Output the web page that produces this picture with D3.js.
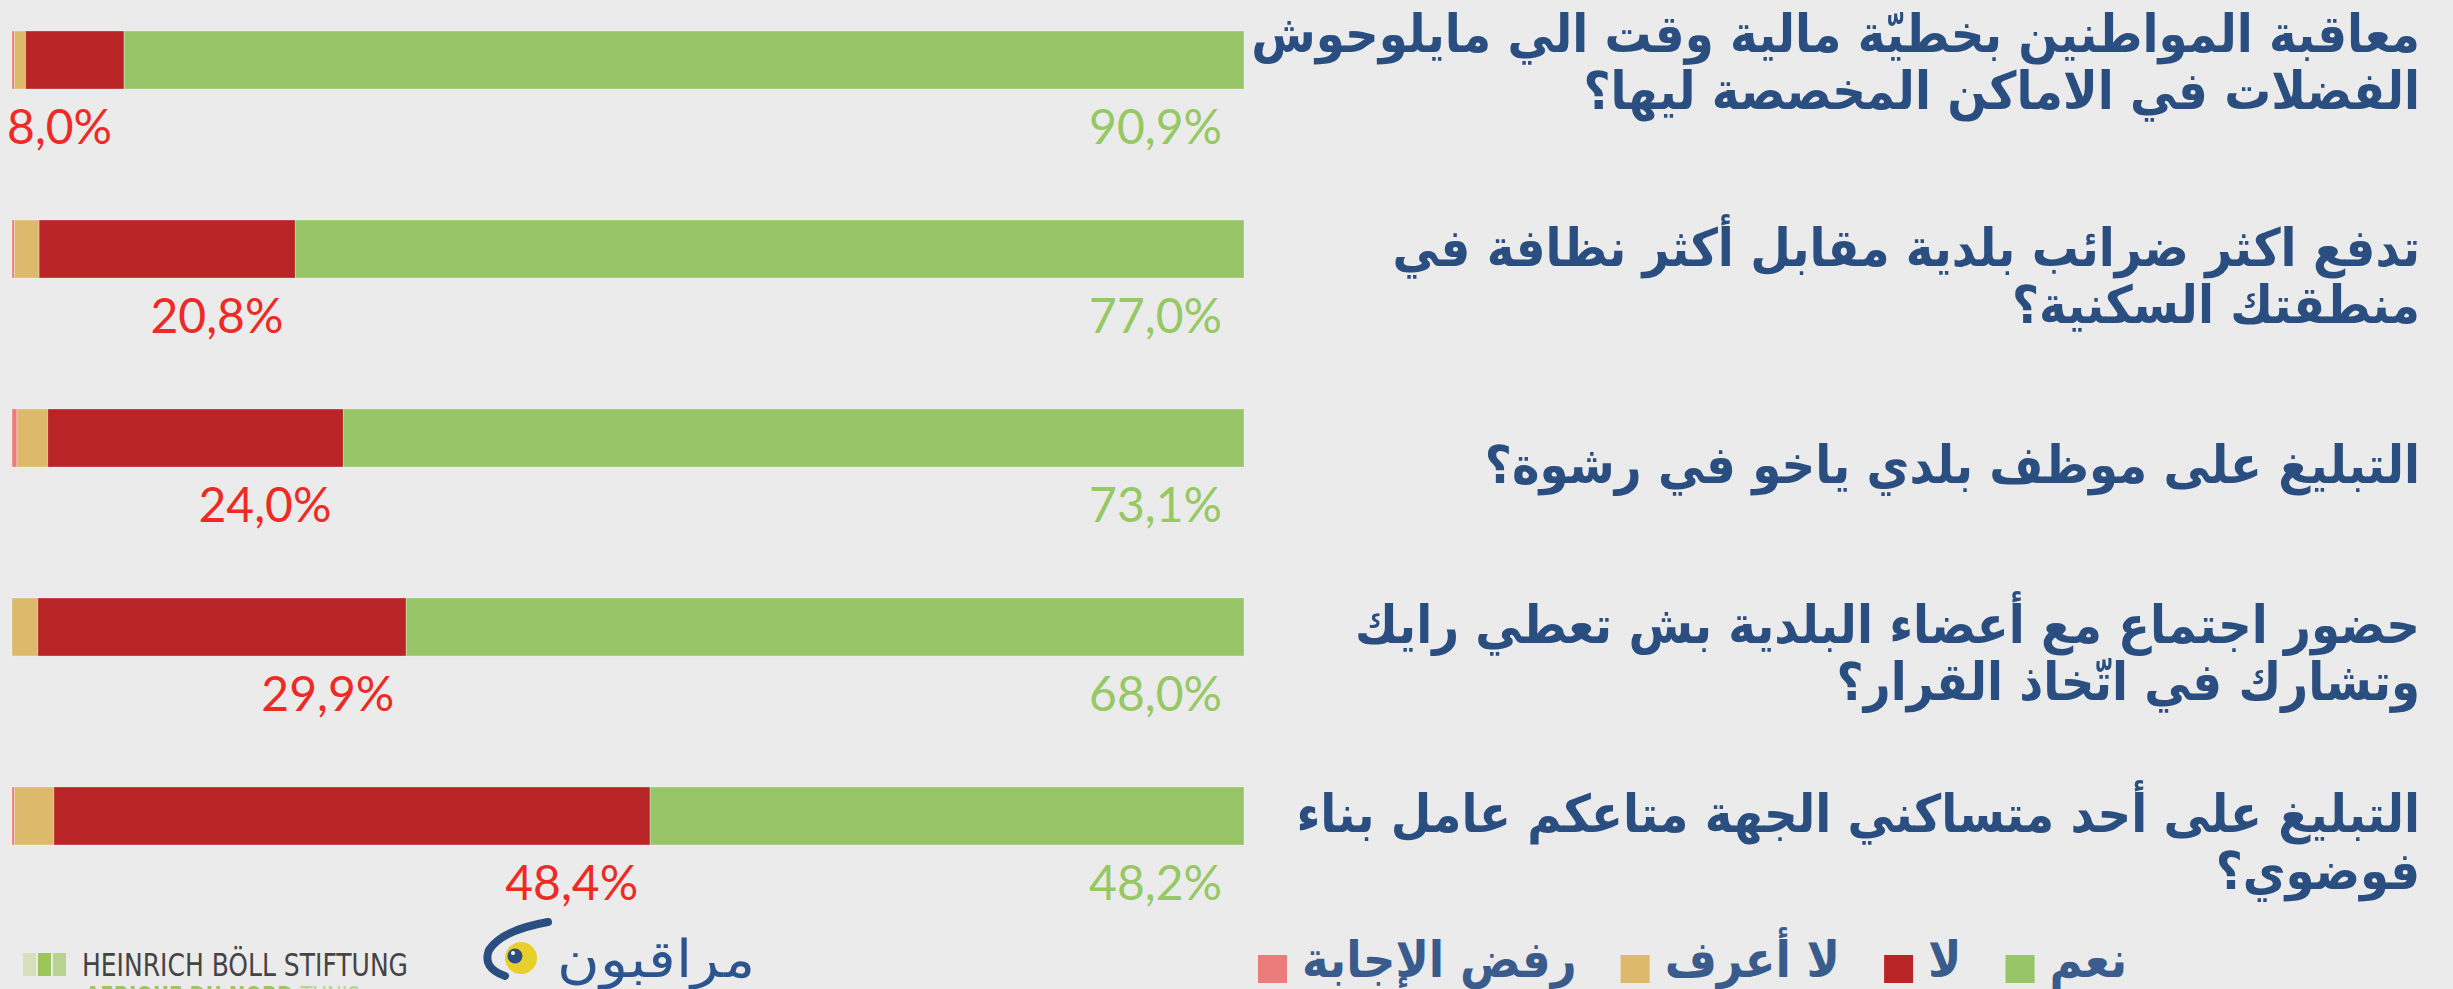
<!DOCTYPE html>
<html><head><meta charset="utf-8">
<script src="https://cdn.jsdelivr.net/npm/d3@7"></script>
<style>html,body{margin:0;padding:0;background:#EBEBEB;overflow:hidden}</style>
</head><body>
<svg id="chart" width="2453" height="989"></svg>
<script>
// ---- data ----
const categories = [
  ["معاقبة المواطنين بخطيّة مالية وقت الي مايلوحوش", "الفضلات في الاماكن المخصصة ليها؟"],
  ["تدفع اكثر ضرائب بلدية مقابل أكثر نظافة في", "منطقتك السكنية؟"],
  ["التبليغ على موظف بلدي ياخو في رشوة؟"],
  ["حضور اجتماع مع أعضاء البلدية بش تعطي رايك", "وتشارك في اتّخاذ القرار؟"],
  ["التبليغ على أحد متساكني الجهة متاعكم عامل بناء", "فوضوي؟"]
];
const refused  = [0.2, 0.2, 0.4, 0.0, 0.2];
const dontKnow = [0.9, 2.0, 2.5, 2.1, 3.2];
const no       = [8.0, 20.8, 24.0, 29.9, 48.4];
const yes      = [90.9, 77.0, 73.1, 68.0, 48.2];
const seriesNames = ["رفض الإجابة", "لا أعرف", "لا", "نعم"];
const seriesColors = ["#EC7B7B", "#DDB96C", "#B92527", "#97C567"];

// ---- layout ----
const svg = d3.select("#chart");
const rows = categories.map((c, i) => ({i, refused: refused[i], dontKnow: dontKnow[i], no: no[i], yes: yes[i]}));
const keys = ["refused", "dontKnow", "no", "yes"];
const stack = d3.stack().keys(keys)(rows);

const x = d3.scaleLinear().domain([0, 100]).range([12, 1244]);
const y = d3.scaleBand().domain(d3.range(categories.length)).range([31, 845]).paddingInner(0.693).paddingOuter(0).align(0);

const fmt = v => d3.format(".1f")(v).replace(".", ",") + "%";

// bars
svg.append("g").selectAll("g").data(stack).join("g")
  .attr("fill", (d, k) => seriesColors[k])
  .selectAll("rect").data(d => d).join("rect")
  .attr("x", d => x(d[0]))
  .attr("y", (d, i) => y(i))
  .attr("width", d => Math.max(0, x(d[1]) - x(d[0])))
  .attr("height", y.bandwidth())
  .attr("stroke", "rgba(255,255,255,0.3)")
  .attr("stroke-width", 1);

// red labels (لا)
svg.append("g").selectAll("text").data(rows).join("text")
  .attr("x", d => x(d.refused + d.dontKnow + d.no) - 12)
  .attr("y", d => y(d.i) + y.bandwidth() + 55)
  .attr("text-anchor", "end")
  .attr("font-family", "Lato, 'Open Sans', sans-serif")
  .attr("font-size", 48)
  .attr("fill", "#EE2A24")
  .text(d => fmt(d.no));

// green labels (نعم)
svg.append("g").selectAll("text").data(rows).join("text")
  .attr("x", x(100) - 22)
  .attr("y", d => y(d.i) + y.bandwidth() + 55)
  .attr("text-anchor", "end")
  .attr("font-family", "Lato, 'Open Sans', sans-serif")
  .attr("font-size", 48)
  .attr("fill", "#96C864")
  .text(d => fmt(d.yes));

// category labels
const labelFont = "'DejaVu Sans', sans-serif";
const labelSize = 52;
const probe = svg.append("text").attr("font-family", labelFont).attr("font-weight", "bold")
  .attr("font-size", labelSize).text(categories[0][0]);
const sx = 1169 / probe.node().getComputedTextLength();
probe.remove();

const lineGap = 57;
const labG = svg.append("g");
categories.forEach((lines, i) => {
  const bc = y(i) + y.bandwidth() / 2;
  const center = i === 0 ? bc + 2 : bc + 27;
  lines.forEach((ln, j) => {
    const base = center + (j - (lines.length - 1) / 2) * lineGap + 18;
    labG.append("text")
      .attr("transform", `translate(2420,${base}) scale(${sx},1)`)
      .attr("text-anchor", "end")
      .attr("font-family", labelFont)
      .attr("font-weight", "bold")
      .attr("font-size", labelSize)
      .attr("fill", "#2A4E80")
      .text(ln);
  });
});

// legend (left to right: refused, don't know, no, yes)
const leg = svg.append("g");
let lx = 1258;
seriesNames.forEach((name, k) => {
  leg.append("rect").attr("x", lx).attr("y", 955).attr("width", 29).attr("height", 28).attr("fill", seriesColors[k]);
  const t = leg.append("text")
    .attr("font-family", labelFont).attr("font-weight", "bold").attr("font-size", 50)
    .attr("fill", "#3A5C8C").text(name);
  const w = t.node().getComputedTextLength() * sx;
  t.attr("transform", `translate(${lx + 44},977) scale(${sx},1)`);
  lx = lx + 44 + w + 44;
});

// Heinrich Böll logo
const hb = svg.append("g");
[["#D5E0BA", 23], ["#9CC55A", 38], ["#B8D38F", 53]].forEach(([c, xx]) => {
  hb.append("rect").attr("x", xx).attr("y", 953).attr("width", 13).attr("height", 23).attr("fill", c);
});
hb.append("text").attr("x", 82).attr("y", 976)
  .attr("font-family", "'Liberation Sans Narrow', 'DejaVu Sans Condensed', sans-serif")
  .attr("font-size", 32).attr("fill", "#444").attr("textLength", 326).attr("lengthAdjust", "spacingAndGlyphs")
  .text("HEINRICH BÖLL STIFTUNG");
const t2 = hb.append("text").attr("x", 85).attr("y", 1006)
  .attr("font-family", "'Liberation Sans Narrow', 'DejaVu Sans Condensed', sans-serif")
  .attr("font-size", 26).attr("textLength", 275).attr("lengthAdjust", "spacingAndGlyphs");
t2.append("tspan").attr("fill", "#9CC55A").attr("font-weight", "bold").text("AFRIQUE DU NORD ");
t2.append("tspan").attr("fill", "#B8D38F").text("TUNIS");

// Muraqiboun logo
const mq = svg.append("g");
mq.append("path").attr("d", "M505,976 Q482,968 489,950 Q502,930 548,922")
  .attr("fill", "none").attr("stroke", "#2A4E80").attr("stroke-width", 8).attr("stroke-linecap", "round");
mq.append("circle").attr("cx", 521).attr("cy", 958).attr("r", 16).attr("fill", "#E8CF2A");
mq.append("circle").attr("cx", 515).attr("cy", 956).attr("r", 7.5).attr("fill", "#2A4E80");
mq.append("circle").attr("cx", 513).attr("cy", 953).attr("r", 2).attr("fill", "#fff");
mq.append("text").attr("x", 557).attr("y", 977)
  .attr("font-family", "'DejaVu Sans', sans-serif").attr("font-weight", 300)
  .attr("font-size", 52).attr("fill", "#2C5590")
  .attr("textLength", 198).attr("lengthAdjust", "spacingAndGlyphs")
  .text("مراقبون");
</script>
</body></html>
